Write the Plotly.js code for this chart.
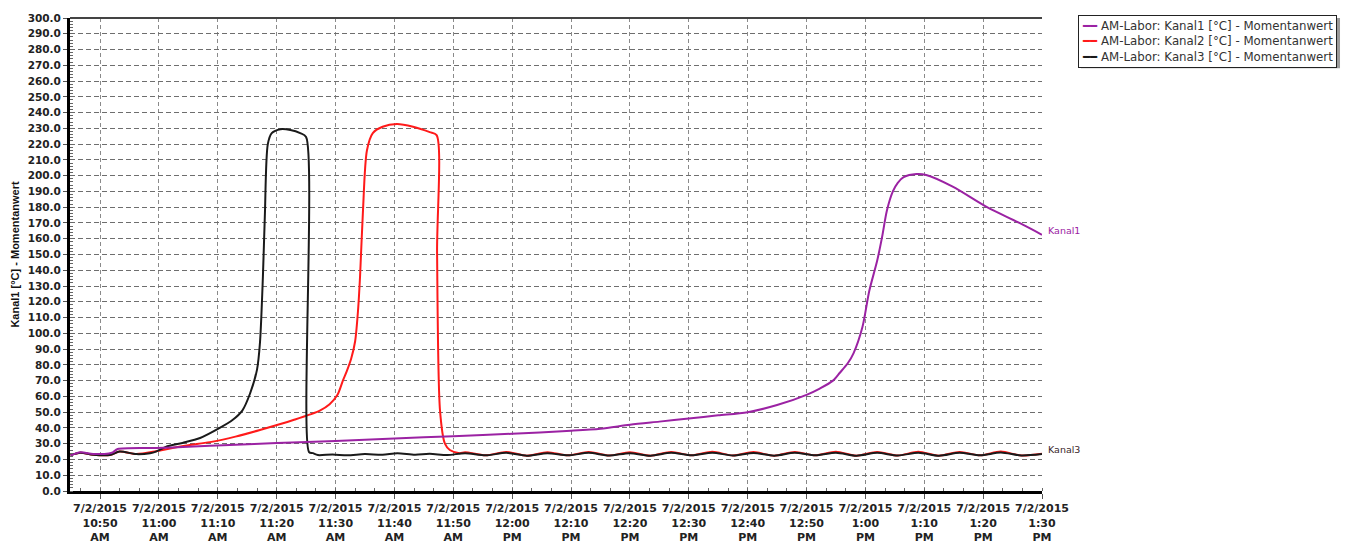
<!DOCTYPE html>
<html>
<head>
<meta charset="utf-8">
<script src="https://cdn.plot.ly/plotly-3.0.1.min.js"></script>
<style>html,body{margin:0;padding:0;background:#fff;}#chart{width:1356px;height:543px;}</style>
</head>
<body>
<div id="chart"></div>
<script>
const D = "2015-07-02 ";

const kanal1Times = ["10:45:00","10:46:40","10:48:50","10:51:30","10:52:10","10:53:00","10:59:30","11:05:00","11:12:00","11:20:00","11:30:00","11:40:00","11:50:00","12:00:00","12:10:00","12:15:00","12:20:00","12:25:00","12:30:00","12:35:00","12:40:00","12:45:00","12:50:00","12:52:15","12:54:30","12:55:40","12:57:00","12:58:00","12:59:30","13:00:40","13:02:00","13:02:50","13:03:40","13:04:40","13:05:30","13:06:30","13:08:40","13:10:20","13:14:50","13:20:40","13:26:10","13:30:00"];
const kanal1Values = [22.5,24.5,23.5,23.8,24.5,26.6,27.3,28.0,29.2,30.4,31.7,33.3,34.8,36.3,38.2,39.5,42.0,44.0,46.0,48.0,50.0,54.5,61.0,65.0,70.0,75.0,81.0,87.5,104.0,127.0,146.0,161.0,178.0,190.0,195.5,199.0,201.0,200.4,193.0,180.0,170.0,162.5];

const kanal2Times = ["10:45:00","10:46:40","10:48:50","10:51:40","10:53:20","10:56:10","10:59:30","11:01:54","11:05:00","11:08:40","11:13:00","11:17:10","11:22:50","11:27:20","11:29:00","11:30:20","11:31:15","11:31:55","11:32:40","11:33:20","11:33:50","11:34:10","11:34:40","11:35:20","11:36:20","11:38:00","11:40:25","11:43:10","11:46:00","11:47:10","11:47:15","11:47:45","11:48:35","11:49:25","11:51:05","11:52:00","11:55:30","11:59:00","12:02:30","12:06:00","12:09:30","12:13:00","12:16:30","12:20:00","12:23:30","12:27:00","12:30:30","12:34:00","12:37:30","12:41:00","12:44:30","12:48:00","12:51:30","12:55:00","12:58:30","13:02:00","13:05:30","13:09:00","13:12:30","13:16:00","13:19:30","13:23:00","13:26:30","13:30:00"];
const kanal2Values = [22.8,24.3,23.0,22.8,25.0,23.4,25.2,27.0,29.0,31.0,34.5,38.7,45.0,51.0,55.0,61.0,70.0,76.0,84.0,95.0,115.0,136.0,178.0,216.0,227.0,231.0,232.7,231.0,227.6,225.7,151.0,51.0,30.0,26.0,24.0,24.6,22.6,24.8,22.4,24.6,22.6,24.8,22.5,24.6,22.4,24.8,22.6,24.9,22.5,24.7,22.4,24.8,22.6,24.9,22.4,24.8,22.5,24.9,22.4,24.8,22.6,25.0,22.5,23.6];

const kanal3Times = ["10:45:00","10:46:40","10:48:50","10:51:40","10:53:20","10:56:10","10:58:30","10:59:30","11:01:10","11:04:00","11:07:00","11:10:20","11:12:30","11:14:10","11:15:30","11:16:40","11:17:10","11:17:40","11:18:00","11:18:30","11:19:10","11:20:40","11:22:20","11:24:00","11:25:00","11:25:30","11:26:10","11:27:00","11:29:30","11:32:00","11:35:00","11:38:00","11:40:30","11:43:30","11:46:00","11:49:00","11:52:00","11:55:30","11:59:00","12:02:30","12:06:00","12:09:30","12:13:00","12:16:30","12:20:00","12:23:30","12:27:00","12:30:30","12:34:00","12:37:30","12:41:00","12:44:30","12:48:00","12:51:30","12:55:00","12:58:30","13:02:00","13:05:30","13:09:00","13:12:30","13:16:00","13:19:30","13:23:00","13:26:30","13:30:00"];
const kanal3Values = [22.8,24.3,23.0,22.8,25.0,23.4,24.0,25.0,28.0,30.5,33.6,40.0,45.0,51.0,62.0,77.0,94.0,136.0,175.0,220.0,227.0,229.5,229.0,227.0,224.5,24.7,24.0,22.8,23.2,22.6,23.4,23.0,24.0,23.0,23.6,22.8,24.0,22.6,24.2,22.4,24.0,22.6,24.2,22.5,24.0,22.4,24.2,22.6,24.3,22.5,24.1,22.4,24.2,22.6,24.3,22.4,24.2,22.5,24.3,22.4,24.2,22.6,24.4,22.5,23.4];

const tickTimes = ["10:50","11:00","11:10","11:20","11:30","11:40","11:50","12:00","12:10","12:20","12:30","12:40","12:50","13:00","13:10","13:20","13:30"];
const tickLabels = ["7/2/2015<br>10:50<br>AM","7/2/2015<br>11:00<br>AM","7/2/2015<br>11:10<br>AM","7/2/2015<br>11:20<br>AM","7/2/2015<br>11:30<br>AM","7/2/2015<br>11:40<br>AM","7/2/2015<br>11:50<br>AM","7/2/2015<br>12:00<br>PM","7/2/2015<br>12:10<br>PM","7/2/2015<br>12:20<br>PM","7/2/2015<br>12:30<br>PM","7/2/2015<br>12:40<br>PM","7/2/2015<br>12:50<br>PM","7/2/2015<br>1:00<br>PM","7/2/2015<br>1:10<br>PM","7/2/2015<br>1:20<br>PM","7/2/2015<br>1:30<br>PM"];

const seriesNames = ["AM-Labor: Kanal1 [°C] - Momentanwert","AM-Labor: Kanal2 [°C] - Momentanwert","AM-Labor: Kanal3 [°C] - Momentanwert"];
const seriesColors = ["#9b22a3","#ff1a1a","#1a1a1a"];
const endLabels = ["Kanal1","Kanal3"];

const toDate = arr => arr.map(t => D + t);

const traces = [
  {x: toDate(kanal2Times), y: kanal2Values, name: seriesNames[1], mode: "lines", line: {color: seriesColors[1], width: 2, shape: "spline", smoothing: 0.8}},
  {x: toDate(kanal3Times), y: kanal3Values, name: seriesNames[2], mode: "lines", line: {color: seriesColors[2], width: 2, shape: "spline", smoothing: 0.8}},
  {x: toDate(kanal1Times), y: kanal1Values, name: seriesNames[0], mode: "lines", line: {color: seriesColors[0], width: 2, shape: "spline", smoothing: 0.8}}
];

const legendText = seriesNames.map((n, i) =>
  "<span style='color:" + seriesColors[i] + "'>━━</span> " + n).join("<br>");

const layout = {
  width: 1356, height: 543,
  margin: {l: 70, r: 314, t: 18, b: 52},
  paper_bgcolor: "#fff", plot_bgcolor: "#fff",
  showlegend: false,
  xaxis: {
    type: "date",
    range: [D + "10:44:54", D + "13:30:00"],
    tickvals: toDate(tickTimes), ticktext: tickLabels,
    tickfont: {family: "DejaVu Sans", size: 11, color: "#222", weight: "bold"},
    ticks: "outside", ticklen: 5, tickcolor: "#555",
    showline: true, linecolor: "#000", linewidth: 3,
    showgrid: true, gridcolor: "#8a8a8a", gridwidth: 1, griddash: "4px,3px",
    zeroline: false,
    minor: {ticks: "inside", ticklen: 3, tickcolor: "#666", dtick: 200000, showgrid: false}
  },
  yaxis: {
    range: [0, 300], dtick: 10, tickformat: ".1f",
    tickfont: {family: "DejaVu Sans", size: 10.5, color: "#222", weight: "bold"},
    ticks: "outside", ticklen: 4, tickcolor: "#555",
    showline: true, linecolor: "#000", linewidth: 3,
    showgrid: true, gridcolor: "#6e6e6e", gridwidth: 1.3, griddash: "5px,3px",
    zeroline: false,
    minor: {ticks: "inside", ticklen: 3, tickcolor: "#666", dtick: 2, showgrid: false},
    title: {text: "Kanal1 [°C] - Momentanwert", font: {family: "Liberation Sans", size: 11, color: "#111", weight: "bold"}, standoff: 6}
  },
  shapes: [
    {type: "line", xref: "paper", yref: "paper", x0: 0, x1: 1, y0: 1, y1: 1, line: {color: "#444", width: 2}},
    {type: "rect", xref: "paper", yref: "paper", x0: 1.0401, x1: 1.3066, y0: 0.894, y1: 1.0, line: {width: 0}, fillcolor: "#9a9a9a", layer: "below"}
  ],
  annotations: [
    {xref: "paper", yref: "paper", x: 1.037, y: 1.006, xanchor: "left", yanchor: "top",
     text: legendText, align: "left", showarrow: false,
     font: {family: "DejaVu Sans", size: 11.8, color: "#333"},
     bordercolor: "#222", borderwidth: 1, borderpad: 3, bgcolor: "#fff"},
    {xref: "paper", yref: "y", x: 1, y: 165, xanchor: "left", yanchor: "middle", xshift: 4,
     text: endLabels[0], showarrow: false, font: {family: "DejaVu Sans", size: 9.5, color: seriesColors[0]}},
    {xref: "paper", yref: "y", x: 1, y: 26.5, xanchor: "left", yanchor: "middle", xshift: 4,
     text: endLabels[1], showarrow: false, font: {family: "DejaVu Sans", size: 9.5, color: "#3a1f2a"}}
  ]
};

Plotly.newPlot("chart", traces, layout, {displayModeBar: false, responsive: false});
</script>
</body>
</html>
